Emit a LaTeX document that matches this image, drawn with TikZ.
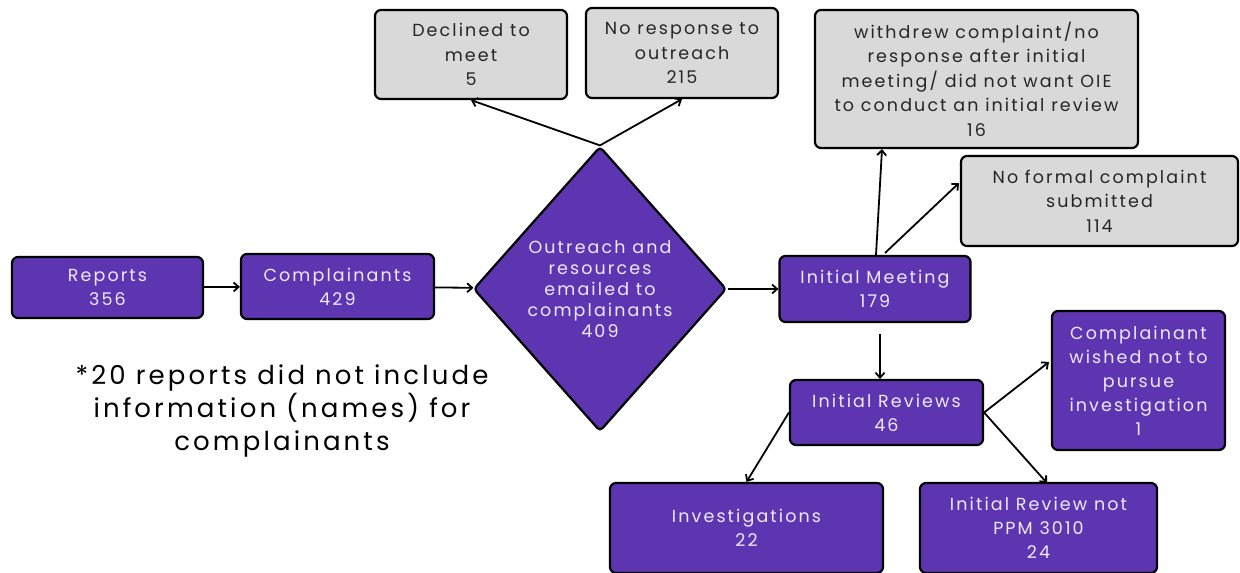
\documentclass[tikz,border=0pt]{standalone}
\usepackage{fontspec}
\setmainfont{Poppins}[LetterSpace=12]
\usetikzlibrary{shapes.geometric,arrows.meta}
\definecolor{boxpurple}{RGB}{94,53,177}
\definecolor{boxgray}{RGB}{217,217,217}
\definecolor{boxtext}{RGB}{238,232,250}
\begin{document}
\begin{tikzpicture}[x=1pt, y=-1pt, line width=1.8pt, >={Straight Barb[length=5pt,width=9pt]},
  purple node/.style={rectangle,rounded corners=6pt,draw=black,line width=2.2pt,fill=boxpurple,text=boxtext,align=center,inner sep=2pt,font=\fontsize{17.5}{24}\selectfont},
  gray node/.style={rectangle,rounded corners=6pt,draw=black,line width=2.2pt,fill=boxgray,text=black!85,align=center,inner sep=2pt,font=\fontsize{17.5}{24.5}\selectfont},
  choice node/.style={diamond,rounded corners=4pt,draw=black,line width=2.2pt,fill=boxpurple,text=boxtext,align=center,inner sep=0pt,font=\fontsize{17.5}{21}\selectfont}]
\useasboundingbox (0,0) rectangle (1240,573);
\begin{scope}
\node[purple node, minimum width=191pt, minimum height=61pt] (reports) at (107.5,287.5) {Reports\\356};
\node[purple node, minimum width=193pt, minimum height=65pt] (compl) at (337.5,286.5) {Complainants\\429};
\node[choice node, minimum width=253pt, minimum height=285pt] (outreach) at (600,289) {Outreach and\\resources\\emailed to\\complainants\\409};
\node[purple node, minimum width=191pt, minimum height=66pt] (meeting) at (875,289) {Initial Meeting\\179};
\node[gray node, minimum width=192pt, minimum height=89pt] (declined) at (471,54.5) {Declined to\\meet\\5};
\node[gray node, minimum width=192pt, minimum height=90pt] (noresp) at (682,53) {No response to\\outreach\\215};
\node[gray node, minimum width=323pt, minimum height=138pt] (withdrew) at (976.5,79) {withdrew complaint/no\\response after initial\\meeting/ did not want OIE\\to conduct an initial review\\16};
\node[gray node, minimum width=277pt, minimum height=90pt] (noformal) at (1099.5,201) {No formal complaint\\submitted\\114};
\node[purple node, minimum width=193pt, minimum height=65pt] (reviews) at (886.5,412.5) {Initial Reviews\\46};
\node[purple node, minimum width=173pt, minimum height=139pt] (wished) at (1138.5,380.5) {Complainant\\wished not to\\pursue\\investigation\\1};
\node[purple node, minimum width=273pt, minimum height=90pt] (invest) at (746.5,528) {Investigations\\22};
\node[purple node, minimum width=237pt, minimum height=90pt] (notppm) at (1038.5,528) {Initial Review not\\PPM 3010\\24};
\node[align=center, font=\fontsize{26}{33}\selectfont] (note) at (282,411) {*20 reports did not include\\information (names) for\\complainants};
%\node[purple node] (x) at (,) {};
\end{scope}
% free ends of the connectors
\coordinate (meetup) at (876,255);
\coordinate (meetfork) at (885,253);
\coordinate (meetdown) at (880,334);
\coordinate (revtop) at (880,379);
\coordinate (wdbottom) at (882,149);
\coordinate (nfleft) at (959,183);
\coordinate (wsleft) at (1049,362);
\coordinate (ppmtop) at (1047,483);
\begin{scope}[every edge/.append style={->}]
\draw (reports) edge (compl);
\draw (compl) edge (outreach);
\draw (outreach) edge (meeting);
\draw (outreach.north) edge (declined.south);
\draw (outreach.north) edge (noresp.south);
\draw (meetup) edge (wdbottom);
\draw (meetfork) edge (nfleft);
\draw (meetdown) edge (revtop);
\draw (reviews.west) edge (invest.north);
\draw (reviews.east) edge (wsleft);
\draw (reviews.east) edge (ppmtop);
%\draw (x) edge (y);
\end{scope}
\end{tikzpicture}
\end{document}
